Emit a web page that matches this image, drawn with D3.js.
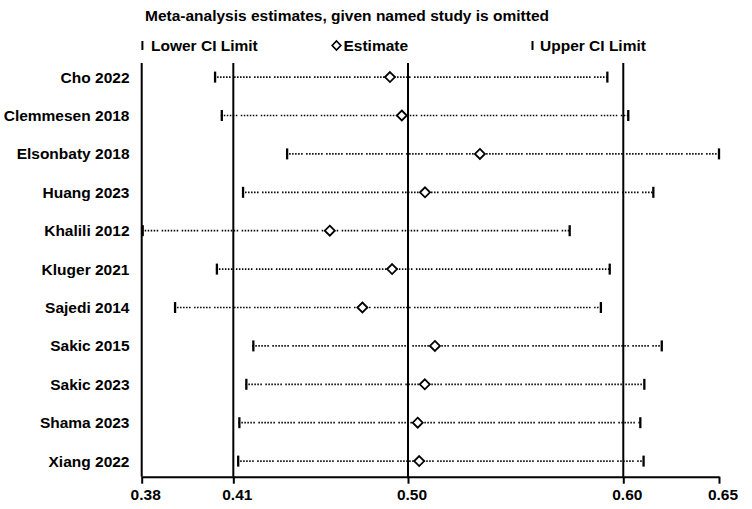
<!DOCTYPE html>
<html>
<head>
<meta charset="utf-8">
<script src="https://cdn.jsdelivr.net/npm/d3@7/dist/d3.min.js"></script>
<style>
  html, body { margin: 0; padding: 0; background: #fff; }
  svg { display: block; }
  text { font-family: "Liberation Sans", Arial, sans-serif; font-weight: bold; fill: #000; }
</style>
</head>
<body>
<svg id="chart" width="752" height="509"></svg>
<script>
// ---- data ----
const studies = ["Cho 2022", "Clemmesen 2018", "Elsonbaty 2018", "Huang 2023", "Khalili 2012",
  "Kluger 2021", "Sajedi 2014", "Sakic 2015", "Sakic 2023", "Shama 2023", "Xiang 2022"];
const lowerCI  = [0.4037, 0.4059, 0.4372, 0.4145, 0.3800, 0.4043, 0.3906, 0.4198, 0.4162, 0.4126, 0.4120];
const estimate = [0.4907, 0.4968, 0.5334, 0.5079, 0.4597, 0.4918, 0.4765, 0.5125, 0.5078, 0.5045, 0.5052];
const upperCI  = [0.5926, 0.6026, 0.6500, 0.6157, 0.5751, 0.5937, 0.5896, 0.6201, 0.6110, 0.6089, 0.6106];
// overall (all studies) estimate and CI
const overall = [0.41, 0.50, 0.60];
// axis ticks: min lower, overall lower, overall estimate, overall upper, max upper
const xTickValues = [0.38, 0.41, 0.50, 0.60, 0.65];
const xTickLabels = ["0.38", "0.41", "0.50", "0.60", "0.65"];
// relative placement of the ticks along the (non-uniform) axis as drawn in the source
const xTickFractions = [0, 0.1587, 0.4613, 0.8342, 1];
const titleText = "Meta-analysis estimates, given named study is omitted";
const legendLabels = ["Lower CI Limit", "Estimate", "Upper CI Limit"];

// ---- layout ----
const svg = d3.select("#chart");
const plotLeft = 141.7, plotRight = 719, plotTop = 63, axisY = 476.7;
const x = d3.scaleLinear()
  .domain(xTickValues)
  .range(xTickFractions.map(f => plotLeft + f * (plotRight - plotLeft)));
const y = d3.scalePoint().domain(studies).range([77.1, 461.1]);

const rows = studies.map((s, i) => ({ s, lo: lowerCI[i], est: estimate[i], hi: upperCI[i] }));

// title & legend
svg.append("text").attr("x", 145).attr("y", 21).attr("font-size", 15.5).text(titleText);
const legY = 51;
svg.append("line").attr("x1", 142.4).attr("x2", 142.4).attr("y1", legY - 10).attr("y2", legY - 1)
  .attr("stroke", "#000").attr("stroke-width", 2);
svg.append("text").attr("x", 151).attr("y", legY).attr("font-size", 15.5).text(legendLabels[0]);
svg.append("path")
  .attr("d", `M336.5,${legY - 10} L340.8,${legY - 5.5} L336.5,${legY - 1} L332.2,${legY - 5.5} Z`)
  .attr("fill", "#fff").attr("stroke", "#000").attr("stroke-width", 1.7);
svg.append("text").attr("x", 343.5).attr("y", legY).attr("font-size", 15.5).text(legendLabels[1]);
svg.append("line").attr("x1", 532.5).attr("x2", 532.5).attr("y1", legY - 10).attr("y2", legY - 1)
  .attr("stroke", "#000").attr("stroke-width", 2);
svg.append("text").attr("x", 540).attr("y", legY).attr("font-size", 15.5).text(legendLabels[2]);

// left axis line
svg.append("line").attr("x1", plotLeft).attr("x2", plotLeft).attr("y1", plotTop).attr("y2", axisY)
  .attr("stroke", "#000").attr("stroke-width", 2);

// reference lines for overall CI & estimate
svg.selectAll("line.ref").data(overall).join("line").attr("class", "ref")
  .attr("x1", d => x(d)).attr("x2", d => x(d)).attr("y1", plotTop).attr("y2", axisY)
  .attr("stroke", "#000").attr("stroke-width", 2);

// x axis
const xAxis = d3.axisBottom(x).tickValues(xTickValues)
  .tickFormat((d, i) => xTickLabels[i]).tickSizeInner(7).tickSizeOuter(0).tickPadding(5);
const gx = svg.append("g").attr("transform", `translate(0,${axisY})`).call(xAxis);
gx.select(".domain").attr("stroke", "#000").attr("stroke-width", 2);
gx.selectAll(".tick line").attr("stroke", "#000").attr("stroke-width", 2);
gx.selectAll(".tick text").attr("font-size", 15.5).attr("font-family", "Liberation Sans, Arial, sans-serif")
  .attr("font-weight", "bold").attr("fill", "#000").attr("dx", 3.5);

// study labels
svg.selectAll("text.study").data(rows).join("text").attr("class", "study")
  .attr("x", 129.5).attr("y", d => y(d.s) + 5.5).attr("text-anchor", "end")
  .attr("font-size", 15.5).text(d => d.s);

// dotted CI lines
svg.selectAll("line.ci").data(rows).join("line").attr("class", "ci")
  .attr("x1", d => x(d.lo)).attr("x2", d => x(d.hi))
  .attr("y1", d => y(d.s)).attr("y2", d => y(d.s))
  .attr("stroke", "#000").attr("stroke-width", 1.7)
  .attr("stroke-dasharray", "1.5,1.5,1.5,1.5,1.5,1.5,1.5,1.5,1.5,1.5,1.5,3.5");

// caps
svg.selectAll("line.capL").data(rows).join("line").attr("class", "capL")
  .attr("x1", d => x(d.lo) + 1).attr("x2", d => x(d.lo) + 1)
  .attr("y1", d => y(d.s) - 5.5).attr("y2", d => y(d.s) + 5.5)
  .attr("stroke", "#000").attr("stroke-width", 2.3);
svg.selectAll("line.capU").data(rows).join("line").attr("class", "capU")
  .attr("x1", d => x(d.hi)).attr("x2", d => x(d.hi))
  .attr("y1", d => y(d.s) - 5.5).attr("y2", d => y(d.s) + 5.5)
  .attr("stroke", "#000").attr("stroke-width", 2.3);

// estimate diamonds
svg.selectAll("path.est").data(rows).join("path").attr("class", "est")
  .attr("d", d => `M${x(d.est)},${y(d.s) - 5} L${x(d.est) + 5},${y(d.s)} L${x(d.est)},${y(d.s) + 5} L${x(d.est) - 5},${y(d.s)} Z`)
  .attr("fill", "#fff").attr("stroke", "#000").attr("stroke-width", 1.8);
</script>
</body>
</html>
